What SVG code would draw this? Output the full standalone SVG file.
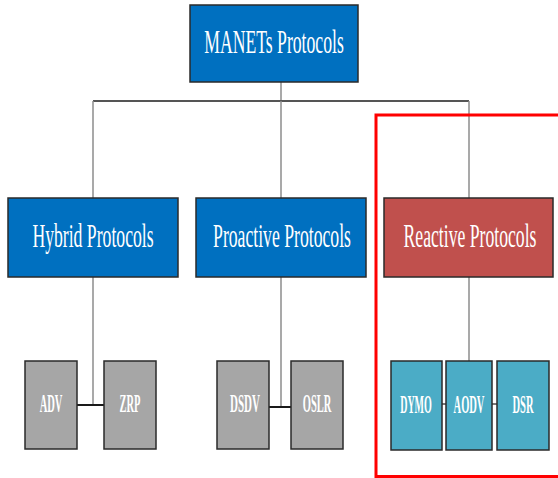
<svg xmlns="http://www.w3.org/2000/svg" width="558" height="478" viewBox="0 0 558 478">
<style>
.box{stroke:#2a2a2a;stroke-width:1.5}
.blue{fill:#0070C0}
.red{fill:#C0504D}
.gray{fill:#A6A6A6}
.teal{fill:#4BACC6}
.big{font-family:"Liberation Serif","Times New Roman",serif;font-size:34px;fill:#ffffff;text-anchor:middle}
.small{font-family:"Liberation Serif","Times New Roman",serif;font-size:25px;font-weight:bold;fill:#ffffff;text-anchor:middle}
.tree{stroke:#8c8c8c;stroke-width:1.5;fill:none}
.trunk{stroke:#555555;stroke-width:2;fill:none}
.link{stroke:#1a1a1a;stroke-width:2;fill:none}
.tiny{stroke:#777777;stroke-width:2;fill:none}
</style>
<rect width="558" height="478" fill="#ffffff"/>
<g id="connectors">
<line class="tree" x1="281" y1="82" x2="281" y2="101"/>
<line class="trunk" x1="93" y1="101" x2="469" y2="101"/>
<line class="tree" x1="93" y1="101" x2="93" y2="198"/>
<line class="tree" x1="281" y1="101" x2="281" y2="198"/>
<line class="tree" x1="469" y1="101" x2="469" y2="198"/>
<line class="tree" x1="93" y1="277" x2="93" y2="405"/>
<line class="link" x1="77" y1="405" x2="104" y2="405"/>
<line class="tree" x1="281" y1="277" x2="281" y2="407"/>
<line class="link" x1="269" y1="407" x2="291" y2="407"/>
<line class="tree" x1="469" y1="277" x2="469" y2="361"/>
<line class="tiny" x1="442" y1="404" x2="446" y2="404"/>
<line class="tiny" x1="492" y1="404" x2="497" y2="404"/>
</g>
<rect id="highlight" x="376" y="115" width="200" height="361.5" fill="none" stroke="#FF0000" stroke-width="3"/>
<g id="manets">
<rect class="box blue" x="190" y="5" width="168" height="77"/>
<text class="big" transform="translate(274 53) scale(0.52 1)">MANETs Protocols</text>
</g>
<g id="hybrid">
<rect class="box blue" x="8" y="198" width="170" height="79"/>
<text class="big" transform="translate(93 247) scale(0.52 1)">Hybrid Protocols</text>
</g>
<g id="proactive">
<rect class="box blue" x="196" y="198" width="170" height="79"/>
<text class="big" transform="translate(282 247) scale(0.52 1)">Proactive Protocols</text>
</g>
<g id="reactive">
<rect class="box red" x="384" y="198" width="169" height="79"/>
<text class="big" transform="translate(470 247) scale(0.52 1)">Reactive Protocols</text>
</g>
<g id="adv">
<rect class="box gray" x="25" y="361" width="52" height="88"/>
<text class="small" transform="translate(51 412) scale(0.42 1)">ADV</text>
</g>
<g id="zrp">
<rect class="box gray" x="104" y="361" width="52" height="88"/>
<text class="small" transform="translate(130 412) scale(0.42 1)">ZRP</text>
</g>
<g id="dsdv">
<rect class="box gray" x="217" y="361" width="52" height="88"/>
<text class="small" transform="translate(245 412) scale(0.44 1)">DSDV</text>
</g>
<g id="oslr">
<rect class="box gray" x="291" y="361" width="52" height="88"/>
<text class="small" transform="translate(317 412) scale(0.42 1)">OSLR</text>
</g>
<g id="dymo">
<rect class="box teal" x="391" y="361" width="51" height="89"/>
<text class="small" transform="translate(416 413) scale(0.40 1)">DYMO</text>
</g>
<g id="aodv">
<rect class="box teal" x="446" y="361" width="46" height="89"/>
<text class="small" transform="translate(469 413) scale(0.42 1)">AODV</text>
</g>
<g id="dsr">
<rect class="box teal" x="497" y="361" width="52" height="89"/>
<text class="small" transform="translate(523 413) scale(0.42 1)">DSR</text>
</g>
</svg>
